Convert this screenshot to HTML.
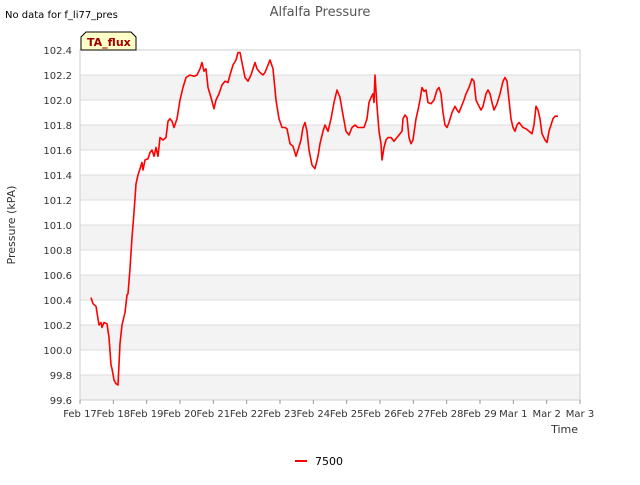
<!DOCTYPE html>
<html><head><meta charset="utf-8"><style>
body{margin:0;background:#fff;font-family:"Liberation Sans","DejaVu Sans",sans-serif}
svg text{font-family:"DejaVu Sans","Liberation Sans",sans-serif}
</style></head><body>
<svg id="c" width="640" height="480" xmlns="http://www.w3.org/2000/svg">
<text x="5" y="18" font-size="10" fill="#000">No data for f_li77_pres</text>
<text x="320" y="16" font-size="13" fill="#555" text-anchor="middle">Alfalfa Pressure</text>
<g id="grid"></g>
<g id="axes"></g>
<g id="series"></g>
<g>
<path d="M81,50 L81,37 L86,32 L131,32 L136,37 L136,50 Z" fill="#ffffc8" stroke="#000" stroke-width="1"/>
<text x="87" y="46" font-size="11" font-weight="bold" fill="#a00000">TA_flux</text></g>
<text x="15" y="225" font-size="11" fill="#333" text-anchor="middle" transform="rotate(-90 15 225)">Pressure (kPA)</text>
<text x="578" y="433" font-size="11" fill="#333" text-anchor="end">Time</text>
<g><line x1="295" y1="461" x2="307" y2="461" stroke="red" stroke-width="2"/><text x="315" y="465" font-size="11" fill="#000">7500</text></g>
</svg>
<script>
const xTickLabels=["Feb 17","Feb 18","Feb 19","Feb 20","Feb 21","Feb 22","Feb 23","Feb 24","Feb 25","Feb 26","Feb 27","Feb 28","Feb 29","Mar 1","Mar 2","Mar 3"];
const yTicks=[99.6,99.8,100.0,100.2,100.4,100.6,100.8,101.0,101.2,101.4,101.6,101.8,102.0,102.2,102.4];
const days=[0.33,.39,.48,.57,.63,.66,.72,.81,.87,.93,.96,1.02,1.08,1.14,1.2,1.26,1.35,1.41,1.44,1.5,1.56,1.62,1.68,1.74,1.8,1.86,1.89,1.95,2.04,2.1,2.16,2.22,2.28,2.34,2.4,2.49,2.58,2.64,2.7,2.76,2.82,2.91,3.0,3.09,3.18,3.3,3.42,3.51,3.6,3.66,3.72,3.78,3.84,3.93,4.02,4.08,4.17,4.26,4.35,4.44,4.5,4.59,4.68,4.74,4.8,4.86,4.95,5.04,5.13,5.25,5.31,5.4,5.49,5.55,5.64,5.7,5.79,5.88,5.97,6.06,6.15,6.21,6.3,6.39,6.48,6.54,6.63,6.69,6.75,6.81,6.87,6.96,7.05,7.14,7.2,7.29,7.35,7.44,7.53,7.62,7.71,7.8,7.89,7.98,8.07,8.16,8.25,8.34,8.43,8.52,8.61,8.67,8.73,8.79,8.82,8.85,8.91,8.97,9.03,9.06,9.12,9.18,9.24,9.33,9.42,9.51,9.6,9.66,9.69,9.75,9.81,9.87,9.93,9.99,10.08,10.14,10.2,10.26,10.32,10.38,10.44,10.53,10.62,10.71,10.77,10.83,10.89,10.95,11.01,11.07,11.16,11.25,11.31,11.37,11.46,11.52,11.58,11.67,11.76,11.82,11.88,11.97,12.03,12.09,12.18,12.24,12.3,12.36,12.42,12.51,12.6,12.69,12.75,12.81,12.87,12.93,12.99,13.05,13.11,13.17,13.23,13.29,13.38,13.47,13.56,13.62,13.68,13.74,13.8,13.86,13.95,14.01,14.07,14.13,14.19,14.25,14.34];
const pressure=[100.42,100.37,100.35,100.2,100.22,100.18,100.22,100.21,100.1,99.88,99.85,99.76,99.73,99.72,100.05,100.2,100.3,100.44,100.45,100.65,100.9,101.1,101.33,101.4,101.45,101.5,101.44,101.52,101.53,101.58,101.6,101.55,101.62,101.55,101.7,101.68,101.7,101.83,101.85,101.83,101.78,101.85,102.0,102.1,102.18,102.2,102.19,102.2,102.25,102.3,102.23,102.25,102.1,102.02,101.93,102.0,102.05,102.12,102.15,102.14,102.2,102.28,102.32,102.38,102.38,102.3,102.18,102.15,102.2,102.3,102.25,102.22,102.2,102.22,102.28,102.32,102.25,102.0,101.85,101.78,101.78,101.77,101.65,101.63,101.55,101.6,101.68,101.78,101.82,101.75,101.6,101.48,101.45,101.55,101.65,101.75,101.8,101.75,101.85,101.98,102.08,102.02,101.88,101.75,101.72,101.78,101.8,101.78,101.78,101.78,101.85,101.98,102.02,102.05,101.98,102.2,101.95,101.75,101.65,101.52,101.62,101.68,101.7,101.7,101.67,101.7,101.73,101.75,101.85,101.88,101.86,101.7,101.65,101.68,101.85,101.92,102.0,102.1,102.07,102.08,101.98,101.97,102.0,102.08,102.1,102.05,101.9,101.8,101.78,101.82,101.9,101.95,101.92,101.9,101.96,102.0,102.05,102.1,102.17,102.15,102.0,101.95,101.92,101.95,102.05,102.08,102.05,101.98,101.92,101.97,102.05,102.15,102.18,102.15,102.0,101.85,101.78,101.75,101.8,101.82,101.8,101.78,101.77,101.75,101.73,101.8,101.95,101.92,101.85,101.73,101.68,101.66,101.75,101.8,101.85,101.87,101.87];
const NS="http://www.w3.org/2000/svg";
const L=80,R=580,T=50,B=400,yMin=99.6,yMax=102.4,xSpan=15;
const X=d=>L+d*(R-L)/xSpan, Y=v=>B-(v-yMin)/(yMax-yMin)*(B-T);
function mk(tag,attrs,parent){const e=document.createElementNS(NS,tag);for(const k in attrs)e.setAttribute(k,attrs[k]);parent.appendChild(e);return e;}
const grid=document.getElementById('grid'),axes=document.getElementById('axes'),series=document.getElementById('series');
for(let i=0;i<yTicks.length-1;i++){
  if(i%2===0){const r=mk('rect',{x:L,y:Y(yTicks[i+1]),width:R-L,height:Y(yTicks[i])-Y(yTicks[i+1]),fill:'#f3f3f3'},grid);
  
  }
}
yTicks.forEach(v=>{
  const l=mk('line',{x1:L,x2:R,y1:Y(v),y2:Y(v),stroke:'#ddd','stroke-width':1},grid);
  
  
  const t=mk('text',{x:L-8,y:Y(v)+4,'font-size':10,fill:'#333','text-anchor':'end'},axes);
  
  
  t.textContent=v.toFixed(1);
});
mk('rect',{x:L,y:T,width:R-L,height:B-T,fill:'none',stroke:'#ccc'},axes);
xTickLabels.forEach((s,i)=>{
  mk('line',{x1:X(i),x2:X(i),y1:B,y2:B+4,stroke:'#999'},axes);
  const t=mk('text',{x:X(i),y:B+17,'font-size':10,fill:'#333','text-anchor':'middle'},axes);
  
  
  t.textContent=s;
});
const pts=days.map((d,i)=>X(d).toFixed(1)+','+Y(pressure[i]).toFixed(1)).join(' ');
const pl=mk('polyline',{points:pts,fill:'none',stroke:'red','stroke-width':1.6,'stroke-linejoin':'round'},series);


</script>
</body></html>
